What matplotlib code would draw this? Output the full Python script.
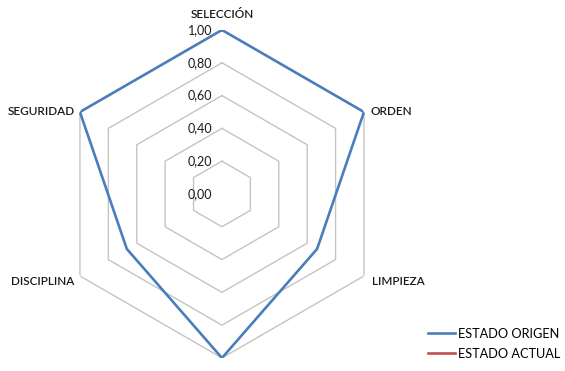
import numpy as np
import matplotlib.pyplot as plt

plt.rcParams['font.family'] = ['Lato', 'DejaVu Sans']

# ejes del radar (sentido horario desde arriba)
categorias = ['SELECCIÓN', 'ORDEN', 'LIMPIEZA', '', 'DISCIPLINA', 'SEGURIDAD']
estado_origen = [1.00, 1.00, 0.67, 1.00, 0.67, 1.00]
estado_actual = [np.nan, np.nan, np.nan, np.nan, np.nan, np.nan]
niveles = [0.2, 0.4, 0.6, 0.8, 1.0]
etiquetas_niveles = ['0,00', '0,20', '0,40', '0,60', '0,80', '1,00']

n = len(categorias)
ang = np.linspace(0, 2 * np.pi, n, endpoint=False)
ang_c = np.append(ang, ang[0])

fig = plt.figure(figsize=(5.65, 3.71), dpi=100)
ax = fig.add_axes([0.1026, 0.0351, 0.5805, 0.8841], projection='polar')
ax.set_theta_zero_location('N')
ax.set_theta_direction(-1)
ax.set_ylim(0, 1)
ax.grid(False)
ax.spines['polar'].set_visible(False)
ax.set_xticks([])
ax.set_yticks([])

# rejilla hexagonal
for r in niveles:
    ax.plot(ang_c, [r] * (n + 1), color='#c4c4c4', lw=1.0, zorder=1)

# etiquetas del eje radial
for i, txt in enumerate(etiquetas_niveles):
    ax.annotate(txt, xy=(0, i * 0.2), xytext=(-7, 0), textcoords='offset points',
                ha='right', va='center', fontsize=9, color='#1a1a1a')

# nombres de categorias
offs = [(0, 7, 'center', 'bottom'), (5, 0, 'left', 'center'), (6, -4, 'left', 'center'),
        (0, -8, 'center', 'top'), (-4, -4, 'right', 'center'), (-4, 0, 'right', 'center')]
for a, cat, (dx, dy, ha, va) in zip(ang, categorias, offs):
    ax.annotate(cat, xy=(a, 1.0), xytext=(dx, dy), textcoords='offset points',
                ha=ha, va=va, fontsize=8.5, fontweight='semibold', color='#1a1a1a')

ax.plot(ang_c, estado_origen + estado_origen[:1], color='#4a7ebb', lw=1.9,
        label='ESTADO ORIGEN', zorder=3)
ax.plot(ang_c, estado_actual + estado_actual[:1], color='#c0504d', lw=1.9,
        label='ESTADO ACTUAL', zorder=3)

fig.legend(loc='lower left', bbox_to_anchor=(0.737, 0.0), frameon=False,
           fontsize=9.2, handlelength=2.1, handletextpad=0.25, labelspacing=0.6)

fig.savefig('out.png', dpi=100)
